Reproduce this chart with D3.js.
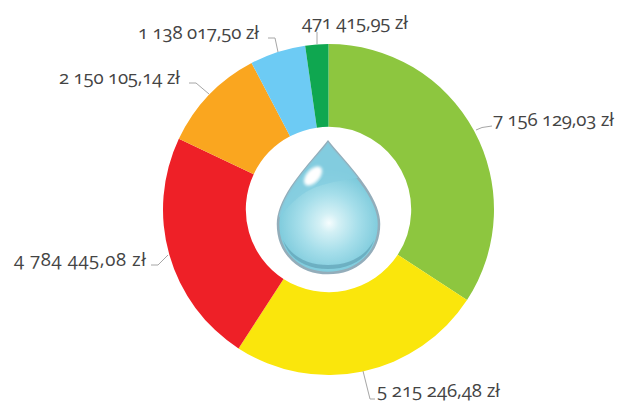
<!DOCTYPE html>
<html>
<head>
<meta charset="utf-8">
<script src="https://cdn.jsdelivr.net/npm/d3@7"></script>
<style>
  html, body { margin: 0; padding: 0; background: #fff; }
  text { font-family: "Open Sans", Lato, sans-serif; font-weight: 400; font-feature-settings: "onum" 1, "lnum" 0; font-variant-numeric: oldstyle-nums; }
</style>
</head>
<body>
<div id="chart"></div>
<script>
// values in zł, clockwise from 12 o'clock
const values = [7156129.03, 5215246.48, 4784445.08, 2150105.14, 1138017.50, 471415.95];
const labels = ['7 156 129,03 zł', '5 215 246,48 zł', '4 784 445,08 zł', '2 150 105,14 zł', '1 138 017,50 zł', '471 415,95 zł'];
const colors = ['#8dc63f', '#fae60c', '#ee2027', '#faa61f', '#6dcbf4', '#0fa750'];

// hand placed label + leader layout, same order as values
const labelPos = [[493, 126], [377, 397], [14, 266], [59, 84], [138, 39], [302, 29]];
const labelWidths = [121, 123, 132, 121, 121, 106]; // the original face is not quite this one
const leaders = [
  [[476, 130], [482, 127.5], [492, 126]],
  [[363, 371], [370, 399], [375, 399]],
  [[168, 255], [158, 265], [151, 265]],
  [[209, 94], [196, 83], [189, 83]],
  [[278, 52], [275, 38], [268, 38]],
  [[317, 44], [317, 32]]
];

const width = 627, height = 403;
const cx = 328.5, cy = 209.5, outerR = 165.5, innerR = 82.7;

const svg = d3.select('#chart').append('svg')
  .attr('width', width)
  .attr('height', height)
  .style('display', 'block');

const pie = d3.pie().sort(null);
const arc = d3.arc().innerRadius(innerR).outerRadius(outerR);

svg.append('g')
  .attr('transform', `translate(${cx},${cy})`)
  .selectAll('path')
  .data(pie(values))
  .join('path')
  .attr('d', arc)
  .attr('fill', (d, i) => colors[i]);

// leader lines
const line = d3.line();
svg.append('g')
  .selectAll('path')
  .data(leaders)
  .join('path')
  .attr('d', line)
  .attr('fill', 'none')
  .attr('stroke', '#a6a6a6')
  .attr('stroke-width', 1);

// labels
svg.append('g')
  .selectAll('text')
  .data(labels)
  .join('text')
  .attr('x', (d, i) => labelPos[i][0])
  .attr('y', (d, i) => labelPos[i][1])
  .attr('textLength', (d, i) => labelWidths[i])
  .attr('lengthAdjust', 'spacing')
  .attr('font-size', 18.6)
  .attr('fill', '#444')
  .text(d => d);

// water drop in the hole
const defs = svg.append('defs');

const body = defs.append('radialGradient')
  .attr('id', 'dropBody')
  .attr('gradientUnits', 'userSpaceOnUse')
  .attr('cx', 329).attr('cy', 223).attr('r', 54);
body.append('stop').attr('offset', '0').attr('stop-color', '#f6fdfe');
body.append('stop').attr('offset', '0.18').attr('stop-color', '#d3f0f5');
body.append('stop').attr('offset', '0.55').attr('stop-color', '#a5deea');
body.append('stop').attr('offset', '1').attr('stop-color', '#78c8da');

defs.append('filter').attr('id', 'soft')
  .append('feGaussianBlur').attr('stdDeviation', 0.7);
defs.append('filter').attr('id', 'softer')
  .append('feGaussianBlur').attr('stdDeviation', 1.4);

const dropPath = 'M328,142 C340,158 379,194 379,224 C379,254 356,273 328,273 C300,273 278,254 278,224 C278,194 316,158 328,142 Z';

defs.append('clipPath').attr('id', 'dropClip')
  .append('path').attr('d', dropPath);

const drop = svg.append('g');

drop.append('path')
  .attr('d', dropPath)
  .attr('fill', 'url(#dropBody)')
  .attr('stroke', '#93adba')
  .attr('stroke-width', 2.5)
  .attr('filter', 'url(#soft)');

// darker cap on the top part
drop.append('path')
  .attr('clip-path', 'url(#dropClip)')
  .attr('d', 'M279,218 C290,203 303,192 316,187 C330,182 350,178 379,176 L379,130 L278,130 Z')
  .attr('fill', '#85cde0')
  .attr('opacity', 0.8);

// rim at the bottom, a soft crescent
drop.append('path')
  .attr('clip-path', 'url(#dropClip)')
  .attr('d', 'M283,240 C292,258 309,265 328,265 C347,265 365,258 374,240 C368,260 349,269 328,269 C307,269 289,260 283,240 Z')
  .attr('fill', '#5f9fb2')
  .attr('opacity', 0.65)
  .attr('filter', 'url(#soft)');

// white glint
drop.append('ellipse')
  .attr('transform', 'translate(313,176) rotate(-48)')
  .attr('rx', 11.5)
  .attr('ry', 6.5)
  .attr('fill', '#fff')
  .attr('filter', 'url(#softer)');
</script>
</body>
</html>
